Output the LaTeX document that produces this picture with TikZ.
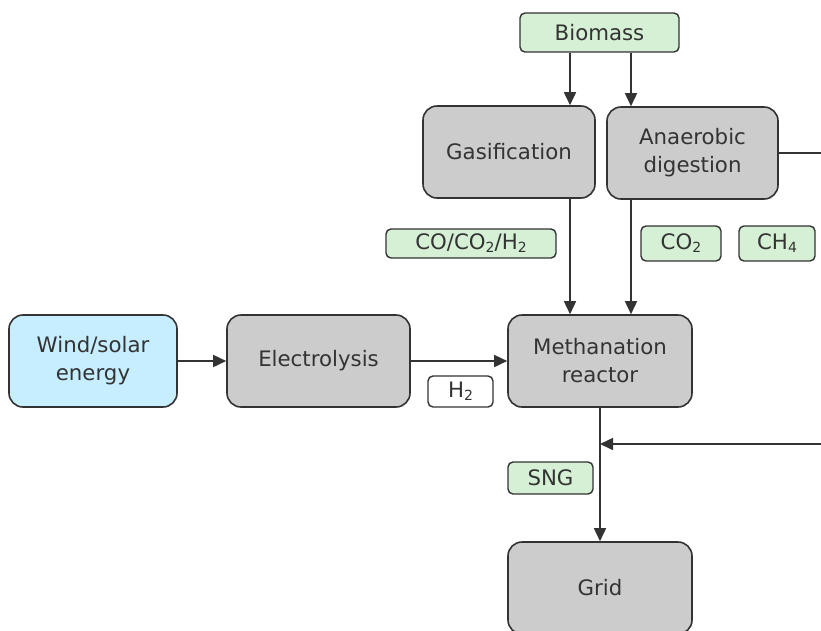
\documentclass[tikz,border=0pt]{standalone}
\usepackage{fontspec}
\setmainfont{DejaVu Sans}
\usetikzlibrary{arrows.meta}
\definecolor{grayfill}{HTML}{CCCCCC}
\definecolor{greenfill}{HTML}{D5F0D5}
\definecolor{bluefill}{HTML}{C7EEFF}
\definecolor{edge}{HTML}{333333}
\definecolor{txt}{HTML}{333333}
\newcommand{\sbs}[1]{\raisebox{-0.25ex}{\fontsize{14}{14}\selectfont #1}}
\tikzset{
  big/.style={draw=edge, line width=1.6pt, rounded corners=14pt, fill=grayfill, text=txt,
    align=center, inner sep=0pt, font=\fontsize{21.3}{28}\selectfont},
  tag/.style={draw=edge, line width=1.4pt, rounded corners=5pt, fill=greenfill, text=txt,
    inner sep=0pt, font=\fontsize{21.3}{26}\selectfont},
  arr/.style={draw=edge, line width=1.6pt, -{Triangle[length=13pt,width=12pt]}},
  ln/.style={draw=edge, line width=1.6pt},
}
\begin{document}
\begin{tikzpicture}[x=1pt,y=-1pt]
\useasboundingbox (0,0) rectangle (821,630);
\clip (0,0) rectangle (821,630);
\node[tag, minimum width=159pt, minimum height=39pt] (bio) at (599.5,32.5) {Biomass};
\node[big, minimum width=172pt, minimum height=92pt] (gas) at (509,152) {Gasification};
\node[big, minimum width=171pt, minimum height=92pt] (ana) at (692.5,153) {Anaerobic\\digestion};
\node[tag, minimum width=170pt, minimum height=29pt] (co) at (471,243.5) {CO/CO\sbs{2}/H\sbs{2}};
\node[tag, minimum width=80pt, minimum height=35pt] (co2) at (681,243.5) {CO\sbs{2}};
\node[tag, minimum width=76pt, minimum height=35pt] (ch4) at (777,243.5) {CH\sbs{4}};
\node[big, fill=bluefill, minimum width=168pt, minimum height=92pt] (wind) at (93,361) {Wind/solar\\energy};
\node[big, minimum width=183pt, minimum height=92pt] (ele) at (318.5,361) {Electrolysis};
\node[big, minimum width=184pt, minimum height=92pt] (meth) at (600,361) {Methanation\\reactor};
\node[tag, fill=white, minimum width=65pt, minimum height=31pt] (h2) at (460.5,391.5) {H\sbs{2}};
\node[tag, minimum width=85pt, minimum height=32pt] (sng) at (550.5,478) {SNG};
\node[big, minimum width=184pt, minimum height=92pt] (grid) at (600,588) {Grid};
\coordinate (xl) at (570,0);
\coordinate (xr) at (631,0);
\coordinate (anaout) at (822,153);
\coordinate (sideout) at (822,444);
\coordinate (join) at (600,444);
\draw[arr] (bio.south -| xl) -- (gas.north -| xl);
\draw[arr] (bio.south -| xr) -- (ana.north -| xr);
\draw[arr] (gas.south -| xl) -- (meth.north -| xl);
\draw[arr] (ana.south -| xr) -- (meth.north -| xr);
\draw[ln] (ana.east) -- (anaout);
\draw[arr] (wind.east) -- (ele.west);
\draw[arr] (ele.east) -- (meth.west);
\draw[arr] (meth.south) -- (grid.north);
\draw[arr] (sideout) -- (join);
\end{tikzpicture}
\end{document}
